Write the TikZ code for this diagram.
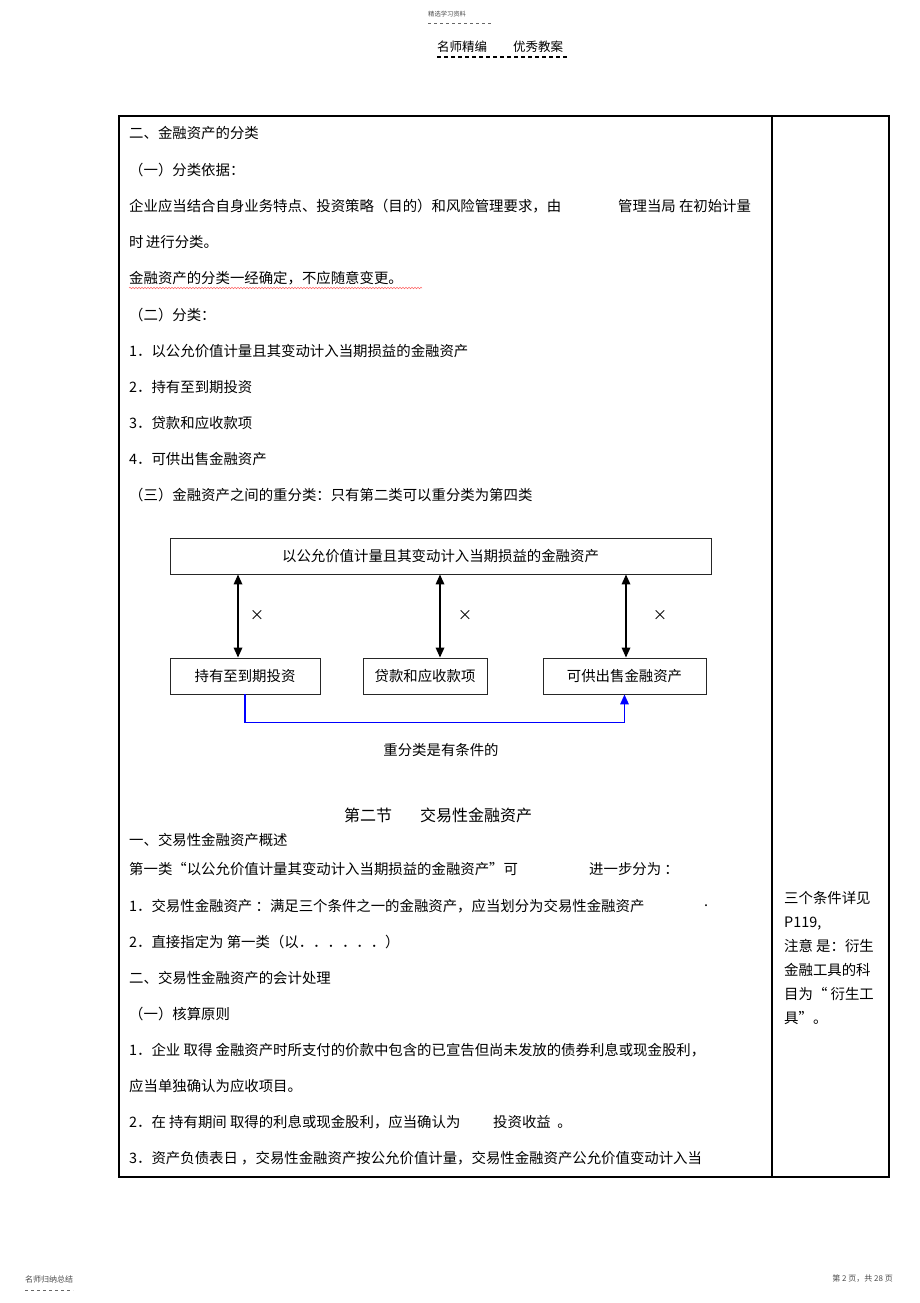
\documentclass[tikz,border=0pt]{standalone}
\usepackage{fontspec}
\setmainfont{Noto Sans CJK SC}
\usetikzlibrary{positioning,arrows.meta,decorations.pathmorphing}
\newcommand{\bodysize}{\fontsize{14.4}{24}\selectfont}
\tikzset{
  txt/.style={anchor=west,inner sep=0pt,font=\bodysize},
  box/.style={draw=black!85,line width=0.9pt,minimum height=36pt,inner sep=0pt,font=\bodysize},
  dbl/.style={{Triangle[length=10pt,width=8.5pt]}-{Triangle[length=10pt,width=8.5pt]},line width=1.7pt},
  reclass/.style={blue,line width=1.6pt,-{Triangle[length=10pt,width=8.5pt]}},
  small/.style={anchor=west,inner sep=0pt,text=black!70},
}
\begin{document}
\begin{tikzpicture}[x=1pt,y=-1pt]
\useasboundingbox[fill=white] (0,0) rectangle (920,1303);
% page header
\node[small,font=\fontsize{6.3}{7}\selectfont] (hd) at (428,14) {精选学习资料};
\draw[black!60,line width=0.5pt,dash pattern=on 3pt off 3pt] (428,23) -- (492,23);
\node[small,text=black,font=\fontsize{12.5}{14}\selectfont] (ttla) at (437,47) {名师精编};
\node[small,text=black,font=\fontsize{12.5}{14}\selectfont] (ttlb) at (513,47) {优秀教案};
\draw[line width=1.2pt,dash pattern=on 4pt off 3pt] (437,57) -- (568,57);

% table frame
\draw[line width=1.6pt] (119,116) rectangle (889,1177);
\draw[line width=1.6pt] (772,116) -- (772,1177);

% left column text
\node[txt] (l1) at (129,133) {二、金融资产的分类};
\node[txt] (l2) at (129,170) {（一）分类依据：};
\node[txt] (l3a) at (129,206) {企业应当结合自身业务特点、投资策略（目的）和风险管理要求，由};
\node[txt] (l3b) at (618,206) {管理当局\ 在初始计量};
\node[txt] (l4) at (129,242) {时\,进行分类。};
\node[txt] (l5) at (129,278) {金融资产的分类一经确定，不应随意变更。};
\draw[red!60,line width=0.5pt,decorate,decoration={snake,amplitude=0.8pt,segment length=3pt}]
  (129,288) -- (422,288);
\node[txt] (l6) at (129,315) {（二）分类：};
\node[txt] (l7) at (129,351) {1．以公允价值计量且其变动计入当期损益的金融资产};
\node[txt] (l8) at (129,387) {2．持有至到期投资};
\node[txt] (l9) at (129,423) {3．贷款和应收款项};
\node[txt] (l10) at (129,459) {4．可供出售金融资产};
\node[txt] (l11) at (129,495) {（三）金融资产之间的重分类：只有第二类可以重分类为第四类};

% reclassification diagram
\node[box,minimum width=541pt] (fv) at (440.5,556) {以公允价值计量且其变动计入当期损益的金融资产};
\node[box,minimum width=150pt] (htm) at (245,676) {持有至到期投资};
\node[box,minimum width=124pt] (loan) at (425,676) {贷款和应收款项};
\node[box,minimum width=163pt] (afs) at (624.5,676) {可供出售金融资产};
\draw[dbl] ([xshift=-7pt]htm.north) -- ([xshift=-7pt]htm.north |- fv.south);
\draw[dbl] ([xshift=-0.5pt]fv.south |- loan.north) -- ([xshift=-0.5pt]fv.south);
\draw[dbl] ([xshift=1.5pt]afs.north) -- ([xshift=1.5pt]afs.north |- fv.south);
\node[font=\bodysize,inner sep=0pt] (no1) at (257,615) {×};
\node[font=\bodysize,inner sep=0pt] (no2) at (465,615) {×};
\node[font=\bodysize,inner sep=0pt] (no3) at (660,615) {×};
\draw[reclass] (htm.south) -- ++(0,28) -| (afs.south);
\node[font=\bodysize,inner sep=0pt] (cond) at (441,750) {重分类是有条件的};

% section two
\node[txt,font=\fontsize{16}{18}\selectfont] (sec) at (344,815) {第二节};
\node[txt,font=\fontsize{16}{18}\selectfont] (secb) at (420,815) {交易性金融资产};
\node[txt] (m1) at (129,840) {一、交易性金融资产概述};
\node[txt] (m2a) at (129,869) {第一类“以公允价值计量其变动计入当期损益的金融资产”可};
\node[txt] (m2b) at (589,869) {进一步分为\ ：};
\node[txt] (m3a) at (129,906) {1．交易性金融资产\ ：满足三个条件之一的金融资产，应当划分为交易性金融资产};
\node[txt] (m3b) at (704,906) {.};
\node[txt] (m4) at (129,942) {2．直接指定为\ 第一类（以．．．．．．）};
\node[txt] (m5) at (129,978) {二、交易性金融资产的会计处理};
\node[txt] (m6) at (129,1014) {（一）核算原则};
\node[txt] (m7) at (129,1050) {1．企业\ 取得\ 金融资产时所支付的价款中包含的已宣告但尚未发放的债券利息或现金股利，};
\node[txt] (m8) at (129,1086) {应当单独确认为应收项目。};
\node[txt] (m9a) at (129,1122) {2．在\ 持有期间\ 取得的利息或现金股利，应当确认为};
\node[txt] (m9b) at (493,1122) {投资收益\ \ 。};
\node[txt] (m10) at (129,1158) {3．资产负债表日\ ，交易性金融资产按公允价值计量，交易性金融资产公允价值变动计入当};

% right column note
\node[anchor=north west,inner sep=0pt,align=left,font=\bodysize] (note) at (784,891)
  {三个条件详见\\P119,\\注意\ 是：衍生\\金融工具的科\\目为“\ 衍生工\\具”。};

% page footer
\node[small,font=\fontsize{8}{9}\selectfont] (ft) at (25,1279) {名师归纳总结};
\draw[black!60,line width=0.5pt,dash pattern=on 3pt off 3pt] (25,1290) -- (73,1290);
\node[small,anchor=east,font=\fontsize{8}{9}\selectfont] (pg) at (893,1279) {第 2 页，共 28 页};
\end{tikzpicture}
\end{document}
